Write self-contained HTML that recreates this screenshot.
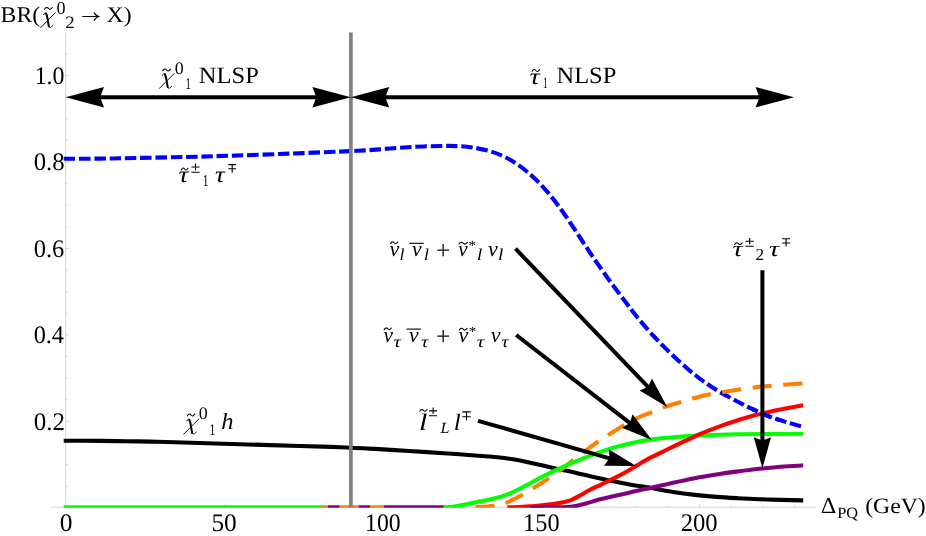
<!DOCTYPE html>
<html><head><meta charset="utf-8"><title>BR plot</title>
<style>
html,body{margin:0;padding:0;background:#fff;}
body{width:926px;height:536px;overflow:hidden;font-family:"Liberation Serif",serif;}
svg{display:block;}
</style></head><body>
<svg width="926" height="536" viewBox="0 0 926 536">
<rect width="926" height="536" fill="#fff"/>
<g stroke="#c2c2c2" stroke-width="0.7" fill="none">
<path d="M50.6,507.2 H815.7 M65.6,33 V507.2"/>
<path d="M65.60,507.2 v-3.0 M97.30,507.2 v-1.8 M129.00,507.2 v-1.8 M160.70,507.2 v-1.8 M192.40,507.2 v-1.8 M224.10,507.2 v-3.0 M255.80,507.2 v-1.8 M287.50,507.2 v-1.8 M319.20,507.2 v-1.8 M350.90,507.2 v-1.8 M382.60,507.2 v-3.0 M414.30,507.2 v-1.8 M446.00,507.2 v-1.8 M477.70,507.2 v-1.8 M509.40,507.2 v-1.8 M541.10,507.2 v-3.0 M572.80,507.2 v-1.8 M604.50,507.2 v-1.8 M636.20,507.2 v-1.8 M667.90,507.2 v-1.8 M699.60,507.2 v-3.0 M731.30,507.2 v-1.8 M763.00,507.2 v-1.8 M794.70,507.2 v-1.8 M65.6,486.19 h2.0 M65.6,464.58 h2.0 M65.6,442.97 h2.0 M65.6,421.36 h3.2 M65.6,399.75 h2.0 M65.6,378.14 h2.0 M65.6,356.53 h2.0 M65.6,334.92 h3.2 M65.6,313.31 h2.0 M65.6,291.70 h2.0 M65.6,270.09 h2.0 M65.6,248.48 h3.2 M65.6,226.87 h2.0 M65.6,205.26 h2.0 M65.6,183.65 h2.0 M65.6,162.04 h3.2 M65.6,140.43 h2.0 M65.6,118.82 h2.0 M65.6,97.21 h2.0 M65.6,75.60 h3.2 M65.6,53.99 h2.0 "/>
</g>
<defs><clipPath id="cp"><rect x="62" y="30" width="741.2" height="477.7"/></clipPath></defs>
<g clip-path="url(#cp)" fill="none" stroke-width="4.10">
<path d="M63.70,440.70 C69.75,440.73 89.78,440.82 100.00,440.90 C110.22,440.98 116.67,441.08 125.00,441.20 C133.33,441.32 141.67,441.42 150.00,441.60 C158.33,441.78 161.42,441.90 175.00,442.30 C188.58,442.70 210.67,443.38 231.50,444.00 C252.33,444.62 281.92,445.47 300.00,446.00 C318.08,446.53 327.57,446.72 340.00,447.20 C352.43,447.68 363.08,448.27 374.60,448.90 C386.12,449.53 397.58,450.28 409.10,451.00 C420.62,451.72 432.18,452.42 443.70,453.20 C455.22,453.98 470.48,455.15 478.20,455.70 C485.92,456.25 486.37,456.20 490.00,456.50 C493.63,456.80 497.12,457.18 500.00,457.50 C502.88,457.82 503.20,457.75 507.30,458.40 C511.40,459.05 518.85,460.25 524.60,461.40 C530.35,462.55 536.05,464.00 541.80,465.30 C547.55,466.60 553.33,467.93 559.10,469.20 C564.87,470.47 570.63,471.60 576.40,472.90 C582.17,474.20 587.93,475.68 593.70,477.00 C599.47,478.32 605.25,479.60 611.00,480.80 C616.75,482.00 622.45,483.17 628.20,484.20 C633.95,485.23 641.60,486.37 645.50,487.00 C649.40,487.63 646.98,487.17 651.60,488.00 C656.22,488.83 666.00,490.85 673.20,492.00 C680.40,493.15 687.60,494.08 694.80,494.90 C702.00,495.72 709.20,496.35 716.40,496.90 C723.60,497.45 730.80,497.82 738.00,498.20 C745.20,498.58 752.40,498.92 759.60,499.20 C766.80,499.48 773.72,499.70 781.20,499.90 C788.68,500.10 800.62,500.32 804.50,500.40" stroke="#000"/>
<path id="bl" d="M63.70,158.80 C69.75,158.77 88.12,158.73 100.00,158.60 C111.88,158.47 120.83,158.27 135.00,158.00 C149.17,157.73 168.33,157.40 185.00,157.00 C201.67,156.60 217.50,156.17 235.00,155.60 C252.50,155.03 272.50,154.27 290.00,153.60 C307.50,152.93 327.50,152.13 340.00,151.60 C352.50,151.07 356.67,150.92 365.00,150.40 C373.33,149.88 381.67,149.10 390.00,148.50 C398.33,147.90 406.67,147.22 415.00,146.80 C423.33,146.38 432.92,146.12 440.00,146.00 C447.08,145.88 452.08,145.85 457.50,146.10 C462.92,146.35 467.08,146.65 472.50,147.50 C477.92,148.35 484.58,149.62 490.00,151.20 C495.42,152.78 500.00,154.50 505.00,157.00 C510.00,159.50 515.00,162.57 520.00,166.20 C525.00,169.83 530.00,174.00 535.00,178.80 C540.00,183.60 545.00,188.97 550.00,195.00 C555.00,201.03 560.00,207.92 565.00,215.00 C570.00,222.08 575.00,230.00 580.00,237.50 C585.00,245.00 590.00,252.72 595.00,260.00 C600.00,267.28 605.00,274.33 610.00,281.20 C615.00,288.07 620.42,295.15 625.00,301.20 C629.58,307.25 632.50,311.45 637.50,317.50 C642.50,323.55 648.75,330.83 655.00,337.50 C661.25,344.17 668.33,351.25 675.00,357.50 C681.67,363.75 688.33,369.75 695.00,375.00 C701.67,380.25 708.10,384.67 715.00,389.00 C721.90,393.33 729.95,397.55 736.40,401.00 C742.85,404.45 747.93,407.02 753.70,409.70 C759.47,412.38 765.25,414.95 771.00,417.10 C776.75,419.25 782.62,420.88 788.20,422.60 C793.78,424.32 801.78,426.60 804.50,427.40" stroke="#0000ff" stroke-dasharray="11.5 3.8"/>
<path d="M475.40,507.20 C476.67,507.15 480.57,507.05 483.00,506.90 C485.43,506.75 487.17,506.68 490.00,506.30 C492.83,505.92 497.12,505.25 500.00,504.60 C502.88,503.95 503.78,503.92 507.30,502.40 C510.82,500.88 516.50,498.02 521.10,495.50 C525.70,492.98 530.30,490.15 534.90,487.30 C539.50,484.45 544.67,481.08 548.70,478.40 C552.73,475.72 555.35,473.98 559.10,471.20 C562.85,468.42 567.17,464.77 571.20,461.70 C575.23,458.63 580.17,455.20 583.30,452.80 C586.43,450.40 587.48,449.18 590.00,447.30 C592.52,445.42 595.37,443.52 598.40,441.50 C601.43,439.48 604.23,437.75 608.20,435.20 C612.17,432.65 617.30,429.10 622.20,426.20 C627.10,423.30 632.72,420.10 637.60,417.80 C642.48,415.50 647.32,414.08 651.50,412.40 C655.68,410.72 658.03,409.37 662.70,407.70 C667.37,406.03 674.37,403.98 679.50,402.40 C684.63,400.82 688.42,399.55 693.50,398.20 C698.58,396.85 704.75,395.37 710.00,394.30 C715.25,393.23 718.33,392.85 725.00,391.80 C731.67,390.75 741.67,389.07 750.00,388.00 C758.33,386.93 765.92,386.17 775.00,385.40 C784.08,384.63 799.58,383.73 804.50,383.40" stroke="#ff8000" stroke-dasharray="19.2 11.55"/>
<path d="M63.7,507.2 H321.1" stroke="#00ff00"/>
<path d="M443.70,507.20 C444.75,507.17 447.73,507.18 450.00,507.00 C452.27,506.82 453.20,506.85 457.30,506.10 C461.40,505.35 468.85,503.68 474.60,502.50 C480.35,501.32 486.05,500.45 491.80,499.00 C497.55,497.55 503.33,496.08 509.10,493.80 C514.87,491.52 520.95,488.10 526.40,485.30 C531.85,482.50 536.35,479.78 541.80,477.00 C547.25,474.22 553.33,471.25 559.10,468.60 C564.87,465.95 570.63,463.47 576.40,461.10 C582.17,458.73 587.93,456.52 593.70,454.40 C599.47,452.28 604.62,450.32 611.00,448.40 C617.38,446.48 625.50,444.37 632.00,442.90 C638.50,441.43 642.68,440.58 650.00,439.60 C657.32,438.62 667.27,437.70 675.90,437.00 C684.53,436.30 691.72,435.85 701.80,435.40 C711.88,434.95 719.28,434.58 736.40,434.30 C753.52,434.02 793.15,433.80 804.50,433.70" stroke="#00ff00"/>
<path d="M507.40,507.20 C509.50,507.17 516.23,507.15 520.00,507.00 C523.77,506.85 527.12,506.48 530.00,506.30 C532.88,506.12 533.20,506.32 537.30,505.90 C541.40,505.48 550.28,504.42 554.60,503.80 C558.92,503.18 560.33,502.87 563.20,502.20 C566.07,501.53 568.92,500.97 571.80,499.80 C574.68,498.63 577.62,496.80 580.50,495.20 C583.38,493.60 585.75,491.93 589.10,490.20 C592.45,488.47 596.38,486.83 600.60,484.80 C604.82,482.77 609.80,480.35 614.40,478.00 C619.00,475.65 623.88,473.13 628.20,470.70 C632.52,468.27 636.67,465.53 640.30,463.40 C643.93,461.27 645.50,460.22 650.00,457.90 C654.50,455.58 661.53,452.28 667.30,449.50 C673.07,446.72 678.85,443.90 684.60,441.20 C690.35,438.50 696.05,435.73 701.80,433.30 C707.55,430.87 713.33,428.68 719.10,426.60 C724.87,424.52 730.63,422.63 736.40,420.80 C742.17,418.97 747.93,417.17 753.70,415.60 C759.47,414.03 765.25,412.67 771.00,411.40 C776.75,410.13 782.62,409.05 788.20,408.00 C793.78,406.95 801.78,405.58 804.50,405.10" stroke="#ff0000"/>
<path d="M530.40,507.20 C535.50,507.20 554.32,507.25 561.00,507.20 C567.68,507.15 567.63,507.17 570.50,506.90 C573.37,506.63 575.47,506.22 578.20,505.60 C580.93,504.98 583.27,504.25 586.90,503.20 C590.53,502.15 595.42,500.48 600.00,499.30 C604.58,498.12 609.70,497.17 614.40,496.10 C619.10,495.03 623.88,493.93 628.20,492.90 C632.52,491.87 636.40,490.77 640.30,489.90 C644.20,489.03 646.12,488.90 651.60,487.70 C657.08,486.50 666.00,484.28 673.20,482.70 C680.40,481.12 687.60,479.57 694.80,478.20 C702.00,476.83 709.47,475.60 716.40,474.50 C723.33,473.40 728.75,472.60 736.40,471.60 C744.05,470.60 753.67,469.38 762.30,468.50 C770.93,467.62 781.17,466.83 788.20,466.30 C795.23,465.77 801.78,465.47 804.50,465.30" stroke="#800080"/>
<clipPath id="cb"><rect x="752" y="404" width="30" height="18"/></clipPath><g clip-path="url(#cb)"><use href="#bl"/></g>
<path d="M321.10,507.2 H328.00" stroke="#ff8000"/>
<path d="M328.00,507.2 H339.70" stroke="#800080"/>
<path d="M339.70,507.2 H358.70" stroke="#ff8000"/>
<path d="M358.70,507.2 H370.00" stroke="#800080"/>
<path d="M370.00,507.2 H384.10" stroke="#ff8000"/>
<path d="M384.10,507.2 H443.70" stroke="#800080"/>
</g>
<line x1="350.9" y1="32.4" x2="350.9" y2="507.6" stroke="#808080" stroke-width="3.7"/>
<polygon points="65.60,97.30 104.00,87.10 100.10,97.30 104.00,107.50" fill="#000"/>
<line x1="99.10" y1="97.30" x2="317.30" y2="97.30" stroke="#000" stroke-width="4.00"/>
<polygon points="350.80,97.30 312.40,107.50 316.30,97.30 312.40,87.10" fill="#000"/>
<polygon points="794.00,97.30 755.60,107.50 759.50,97.30 755.60,87.10" fill="#000"/>
<line x1="760.50" y1="97.30" x2="384.30" y2="97.30" stroke="#000" stroke-width="4.00"/>
<polygon points="350.80,97.30 389.20,87.10 385.30,97.30 389.20,107.50" fill="#000"/>
<line x1="515.50" y1="248.70" x2="648.72" y2="387.63" stroke="#000" stroke-width="4.00"/>
<polygon points="667.20,406.90 639.54,390.48 648.03,386.91 651.95,378.57" fill="#000"/>
<line x1="516.20" y1="335.00" x2="630.68" y2="423.56" stroke="#000" stroke-width="4.00"/>
<polygon points="651.80,439.90 622.02,427.73 629.89,422.95 632.54,414.13" fill="#000"/>
<line x1="478.00" y1="420.80" x2="610.52" y2="458.58" stroke="#000" stroke-width="4.00"/>
<polygon points="636.20,465.90 604.03,465.67 609.56,458.31 608.75,449.13" fill="#000"/>
<line x1="762.40" y1="270.20" x2="762.40" y2="441.60" stroke="#000" stroke-width="4.00"/>
<polygon points="762.40,468.30 753.80,437.30 762.40,440.60 771.00,437.30" fill="#000"/>
<g fill="#000" font-family="'Liberation Serif', serif" text-rendering="geometricPrecision" opacity="0.999" style="font-kerning:none;font-variant-ligatures:none;white-space:pre">
<text transform="translate(33.65,429.80) scale(0.7835,0.7914)" font-size="32">0.2</text>
<text transform="translate(33.68,343.36) scale(0.7576,0.7914)" font-size="32">0.4</text>
<text transform="translate(33.67,256.92) scale(0.7666,0.7914)" font-size="32">0.6</text>
<text transform="translate(33.66,170.48) scale(0.7720,0.7914)" font-size="32">0.8</text>
<text transform="translate(34.70,84.04) scale(0.7451,0.7914)" font-size="32">1.0</text>
<text transform="translate(59.63,531.25) scale(0.7963,0.7919)" font-size="32">0</text>
<text transform="translate(211.43,531.25) scale(0.7918,0.7919)" font-size="32">50</text>
<text transform="translate(365.11,531.25) scale(0.7414,0.7919)" font-size="32">100</text>
<text transform="translate(523.06,531.25) scale(0.7619,0.7919)" font-size="32">150</text>
<text transform="translate(680.72,531.25) scale(0.7702,0.7919)" font-size="32">200</text>
<text transform="translate(0.61,22.33) scale(0.7433,0.6996)" font-size="32">BR(</text>
<path d="M55.21,12.80 L40.69,27.66" stroke="#000" stroke-width="0.95" fill="none" stroke-linecap="round"/>
<path d="M43.65,14.65 C44.22,13.19 45.37,12.50 46.32,13.19" stroke="#000" stroke-width="1.0" fill="none" stroke-linecap="round"/>
<path d="M46.13,13.48 C46.99,14.95 47.28,17.00 47.66,19.44 L48.81,26.29" stroke="#000" stroke-width="2.0" fill="none" stroke-linecap="round"/>
<path d="M48.81,26.48 C49.29,28.05 51.20,28.24 52.53,25.60" stroke="#000" stroke-width="1.0" fill="none" stroke-linecap="round"/>
<text transform="translate(56.41,13.52) scale(0.5641,0.5742)" font-size="32">0</text>
<text transform="translate(65.17,28.40) scale(0.5924,0.5428)" font-size="32">2</text>
<text transform="translate(106.58,22.18) scale(0.7423,0.6927)" font-size="32">X)</text>
<path d="M82.3,16.5 H98 M93.9,12.6 Q95.6,15.4 98.7,16.5 Q95.6,17.6 93.9,20.6" fill="none" stroke="#000" stroke-width="1.2"/>
<path d="M174.21,73.50 L159.39,88.36" stroke="#000" stroke-width="0.95" fill="none" stroke-linecap="round"/>
<path d="M162.41,75.35 C163.00,73.89 164.17,73.20 165.14,73.89" stroke="#000" stroke-width="1.0" fill="none" stroke-linecap="round"/>
<path d="M164.95,74.18 C165.82,75.65 166.12,77.70 166.51,80.14 L167.68,86.99" stroke="#000" stroke-width="2.0" fill="none" stroke-linecap="round"/>
<path d="M167.68,87.18 C168.16,88.75 170.11,88.94 171.48,86.30" stroke="#000" stroke-width="1.0" fill="none" stroke-linecap="round"/>
<text transform="translate(174.82,74.23) scale(0.5604,0.5465)" font-size="32">0</text>
<text transform="translate(185.55,89.40) scale(0.3373,0.5112)" font-size="32">1</text>
<text transform="translate(198.79,83.47) scale(0.7666,0.7302)" font-size="32">NLSP</text>
<text transform="translate(529.57,83.98) scale(0.8960,0.7200)" font-size="32" font-style="italic">τ</text>
<text transform="translate(543.08,87.50) scale(0.2929,0.4970)" font-size="32">1</text>
<text transform="translate(556.50,83.47) scale(0.7640,0.7302)" font-size="32">NLSP</text>
<text transform="translate(178.59,182.28) scale(0.8704,0.7067)" font-size="32" font-style="italic">τ</text>
<text transform="translate(202.70,186.40) scale(0.3551,0.5207)" font-size="32">1</text>
<text transform="translate(215.11,182.28) scale(0.8448,0.7067)" font-size="32" font-style="italic">τ</text>
<text transform="translate(389.60,256.09) scale(0.6901,0.6800)" font-size="32" font-style="italic">ν</text>
<text transform="translate(412.00,256.09) scale(0.6756,0.6800)" font-size="32" font-style="italic">ν</text>
<text transform="translate(458.31,256.09) scale(0.6611,0.6800)" font-size="32" font-style="italic">ν</text>
<text transform="translate(487.90,256.09) scale(0.6901,0.6800)" font-size="32" font-style="italic">ν</text>
<text transform="translate(399.45,260.40) scale(0.5552,0.5179)" font-size="32" font-style="italic">l</text>
<text transform="translate(424.05,260.40) scale(0.5552,0.5179)" font-size="32" font-style="italic">l</text>
<text transform="translate(477.10,260.40) scale(0.5860,0.5179)" font-size="32" font-style="italic">l</text>
<text transform="translate(498.08,260.40) scale(0.6014,0.5179)" font-size="32" font-style="italic">l</text>
<text transform="translate(436.04,259.24) scale(0.7924,0.8319)" font-size="32">+</text>
<text transform="translate(468.45,250.29) scale(0.4804,0.4431)" font-size="32">*</text>
<text transform="translate(383.51,342.09) scale(0.6683,0.6800)" font-size="32" font-style="italic">ν</text>
<text transform="translate(409.10,342.09) scale(0.6756,0.6800)" font-size="32" font-style="italic">ν</text>
<text transform="translate(458.60,342.09) scale(0.6901,0.6800)" font-size="32" font-style="italic">ν</text>
<text transform="translate(490.70,342.09) scale(0.6901,0.6800)" font-size="32" font-style="italic">ν</text>
<text transform="translate(393.55,346.54) scale(0.6400,0.5133)" font-size="32" font-style="italic">τ</text>
<text transform="translate(420.96,346.54) scale(0.6315,0.5133)" font-size="32" font-style="italic">τ</text>
<text transform="translate(476.84,346.54) scale(0.6485,0.5133)" font-size="32" font-style="italic">τ</text>
<text transform="translate(501.48,346.54) scale(0.5973,0.5133)" font-size="32" font-style="italic">τ</text>
<text transform="translate(436.04,345.34) scale(0.7924,0.8319)" font-size="32">+</text>
<text transform="translate(468.77,336.01) scale(0.4649,0.4346)" font-size="32">*</text>
<text transform="translate(418.90,429.90) scale(0.9407,0.7431)" font-size="32" font-style="italic">l</text>
<text transform="translate(440.49,433.30) scale(0.5043,0.4868)" font-size="32" font-style="italic">L</text>
<text transform="translate(453.86,429.90) scale(0.7865,0.7341)" font-size="32" font-style="italic">l</text>
<path d="M198.70,419.10 L183.70,434.15" stroke="#000" stroke-width="0.95" fill="none" stroke-linecap="round"/>
<path d="M186.76,420.98 C187.35,419.49 188.53,418.80 189.52,419.49" stroke="#000" stroke-width="1.0" fill="none" stroke-linecap="round"/>
<path d="M189.32,419.79 C190.21,421.28 190.51,423.36 190.90,425.83 L192.09,432.77" stroke="#000" stroke-width="2.0" fill="none" stroke-linecap="round"/>
<path d="M192.09,432.96 C192.58,434.55 194.56,434.75 195.94,432.07" stroke="#000" stroke-width="1.0" fill="none" stroke-linecap="round"/>
<text transform="translate(198.72,419.23) scale(0.5604,0.5465)" font-size="32">0</text>
<text transform="translate(209.38,434.70) scale(0.3639,0.5112)" font-size="32">1</text>
<text transform="translate(221.21,429.40) scale(0.7695,0.7251)" font-size="32" font-style="italic">h</text>
<text transform="translate(732.58,256.39) scale(0.8875,0.6867)" font-size="32" font-style="italic">τ</text>
<text transform="translate(755.54,260.40) scale(0.5379,0.5239)" font-size="32">2</text>
<text transform="translate(768.88,256.39) scale(0.8875,0.6867)" font-size="32" font-style="italic">τ</text>
<text transform="translate(820.68,512.90) scale(0.7546,0.7053)" font-size="32">Δ</text>
<text transform="translate(837.23,517.60) scale(0.5122,0.4916)" font-size="32">PQ</text>
<text transform="translate(865.16,512.93) scale(0.7412,0.6858)" font-size="32">(GeV)</text>
</g>
<path d="M44.40,9.20 Q46.56,6.14 48.40,8.35 T52.40,7.50" fill="none" stroke="#000" stroke-width="1.05" stroke-linecap="round"/>
<path d="M162.70,70.85 Q164.81,67.79 166.60,70.00 T170.50,69.15" fill="none" stroke="#000" stroke-width="1.05" stroke-linecap="round"/>
<path d="M532.10,71.35 Q534.10,68.29 535.80,70.50 T539.50,69.65" fill="none" stroke="#000" stroke-width="1.05" stroke-linecap="round"/>
<path d="M181.20,169.85 Q183.06,166.79 184.65,169.00 T188.10,168.15" fill="none" stroke="#000" stroke-width="1.05" stroke-linecap="round"/>
<path d="M390.50,243.65 Q392.47,240.59 394.15,242.80 T397.80,241.95" fill="none" stroke="#000" stroke-width="1.05" stroke-linecap="round"/>
<path d="M458.90,244.05 Q461.19,240.99 463.15,243.20 T467.40,242.35" fill="none" stroke="#000" stroke-width="1.05" stroke-linecap="round"/>
<path d="M384.10,329.65 Q386.07,326.59 387.75,328.80 T391.40,327.95" fill="none" stroke="#000" stroke-width="1.05" stroke-linecap="round"/>
<path d="M459.30,330.05 Q461.41,326.99 463.20,329.20 T467.10,328.35" fill="none" stroke="#000" stroke-width="1.05" stroke-linecap="round"/>
<path d="M419.70,411.25 Q421.70,408.19 423.40,410.40 T427.10,409.55" fill="none" stroke="#000" stroke-width="1.05" stroke-linecap="round"/>
<path d="M187.30,415.85 Q189.30,412.79 191.00,415.00 T194.70,414.15" fill="none" stroke="#000" stroke-width="1.05" stroke-linecap="round"/>
<path d="M734.60,244.55 Q736.65,241.49 738.40,243.70 T742.20,242.85" fill="none" stroke="#000" stroke-width="1.05" stroke-linecap="round"/>
<line x1="409.40" y1="243.30" x2="423.80" y2="243.30" stroke="#000" stroke-width="1.10"/>
<line x1="406.50" y1="329.10" x2="420.90" y2="329.10" stroke="#000" stroke-width="1.10"/>
<path d="M191.40,172.30 H199.60 M191.40,167.00 H199.60 M195.50,163.50 V170.20" fill="none" stroke="#000" stroke-width="1.10"/>
<path d="M228.30,164.60 H236.10 M228.30,168.80 H236.10 M232.20,164.90 V172.70" fill="none" stroke="#000" stroke-width="1.10"/>
<path d="M429.10,415.70 H437.10 M429.10,410.90 H437.10 M433.10,407.40 V413.90" fill="none" stroke="#000" stroke-width="1.10"/>
<path d="M462.30,411.90 H470.70 M462.30,416.80 H470.70 M466.50,412.20 V420.20" fill="none" stroke="#000" stroke-width="1.10"/>
<path d="M745.50,246.20 H753.80 M745.50,241.30 H753.80 M749.65,238.00 V244.20" fill="none" stroke="#000" stroke-width="1.10"/>
<path d="M782.10,238.70 H790.10 M782.10,243.00 H790.10 M786.10,239.00 V246.40" fill="none" stroke="#000" stroke-width="1.10"/>
</svg>
</body></html>
